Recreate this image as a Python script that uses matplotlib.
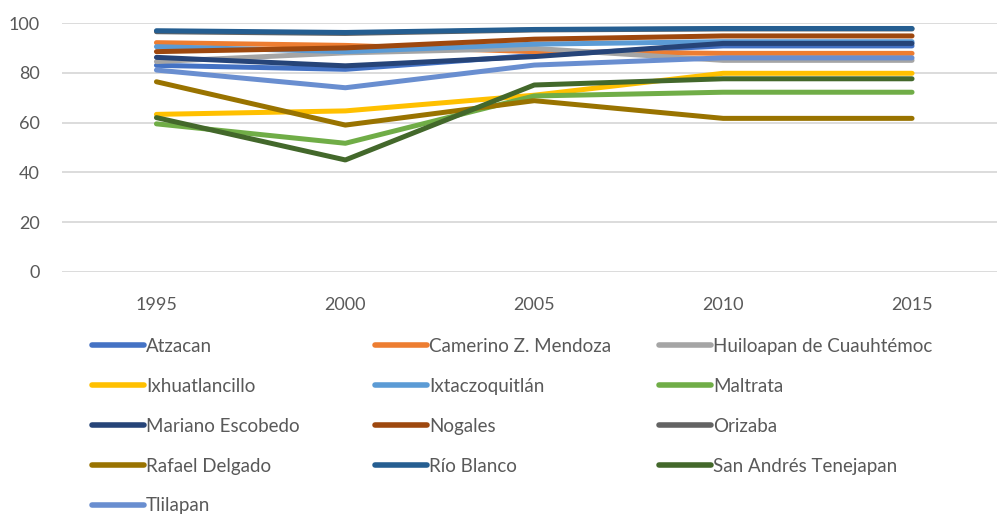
import numpy as np
import matplotlib
matplotlib.use('Agg')
import matplotlib.pyplot as plt

plt.rcParams['font.family'] = ['Lato', 'DejaVu Sans']

years = ['1995', '2000', '2005', '2010', '2015']

names = ['Atzacan', 'Camerino Z. Mendoza', 'Huiloapan de Cuauhtémoc',
         'Ixhuatlancillo', 'Ixtaczoquitlán', 'Maltrata',
         'Mariano Escobedo', 'Nogales', 'Orizaba',
         'Rafael Delgado', 'Río Blanco', 'San Andrés Tenejapan',
         'Tlilapan']

# values
atzacan = [83.0, 81.4, 87.0, 90.8, 90.8]
camerino = [92.1, 91.0, 88.5, 87.8, 87.8]
huiloapan = [84.5, 88.0, 89.8, 85.0, 85.0]
ixhuatlancillo = [63.3, 64.7, 71.0, 79.8, 79.8]
ixtaczoquitlan = [90.5, 88.5, 91.5, 92.5, 92.5]
maltrata = [59.5, 51.7, 70.7, 72.2, 72.2]
mariano = [86.2, 82.8, 86.5, 91.8, 91.8]
nogales = [88.5, 90.0, 93.5, 94.8, 94.8]
orizaba = [96.5, 95.8, 97.2, 97.6, 97.6]
rafael = [76.4, 59.0, 68.8, 61.7, 61.7]
rio_blanco = [96.9, 96.2, 97.4, 97.8, 97.8]
san_andres = [62.0, 45.0, 75.1, 77.6, 77.6]
tlilapan = [81.1, 74.0, 83.1, 86.0, 86.0]

series = [atzacan, camerino, huiloapan, ixhuatlancillo, ixtaczoquitlan,
          maltrata, mariano, nogales, orizaba, rafael, rio_blanco,
          san_andres, tlilapan]

colors = ['#4472C4', '#ED7D31', '#A5A5A5', '#FFC000', '#5B9BD5', '#70AD47',
          '#264478', '#9E480E', '#636363', '#997300', '#255E91', '#43682B',
          '#698ED0']

fig = plt.figure(figsize=(9.97, 5.17), dpi=100)
ax = fig.add_axes([62/997, (517-272)/517, (997-62)/997, 249/517])

x = np.arange(len(years))
handles = []
for vals, c, n in zip(series, colors, names):
    h, = ax.plot(x, vals, color=c, lw=3.6, solid_capstyle='round',
                 solid_joinstyle='round', label=n)
    handles.append(h)

ax.set_xlim(-0.5, 4 + 85/189)
ax.set_ylim(0, 100)
ax.set_yticks(np.arange(0, 101, 20))
ax.set_xticks(x)
ax.set_xticklabels(years)
ax.yaxis.grid(True, color='#D9D9D9', lw=1.3)
ax.set_axisbelow(True)
for s in ax.spines.values():
    s.set_visible(False)
ax.tick_params(length=0, labelsize=13, labelcolor='#595959')
ax.tick_params(axis='y', pad=16)
ax.tick_params(axis='x', pad=18)

# legend laid out row by row in three fixed columns
col_x = [92/997, 375/997, 659/997]
for j in range(3):
    idx = list(range(j, len(names), 3))
    leg = fig.legend([handles[i] for i in idx], [names[i] for i in idx],
                     loc='upper left', bbox_to_anchor=(col_x[j], 1 - 338/517),
                     frameon=False, fontsize=13.5, handlelength=2.75,
                     handletextpad=0.12, labelspacing=1.22, borderpad=0,
                     borderaxespad=0)
    for t in leg.get_texts():
        t.set_color('#595959')
    for l in leg.get_lines():
        l.set_linewidth(4)

fig.savefig('out.png', dpi=100)
